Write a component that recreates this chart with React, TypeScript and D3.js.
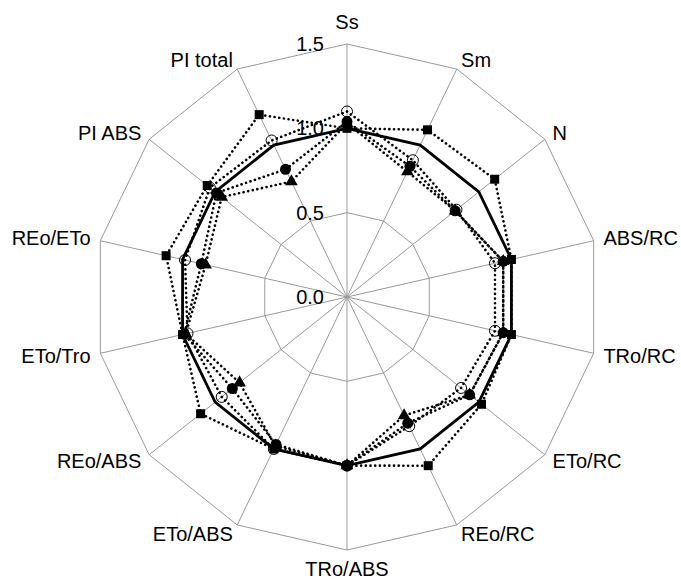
import * as d3 from 'd3'

const categories = [
  'Ss', 'Sm', 'N', 'ABS/RC', 'TRo/RC', 'ETo/RC', 'REo/RC',
  'TRo/ABS', 'ETo/ABS', 'REo/ABS', 'ETo/Tro', 'REo/ETo', 'PI ABS', 'PI total',
]
const ticks = [0, 0.5, 1.0, 1.5]

const control = [1, 1, 1, 1, 1, 1, 1, 1, 1, 1, 1, 1, 1, 1]
const squares = [1.0, 1.1, 1.12, 1.0, 1.0, 1.02, 1.11, 1.0, 1.0, 1.11, 1.0, 1.1, 1.06, 1.2]
const openCircles = [1.1, 0.9, 0.83, 0.9, 0.9, 0.865, 0.85, 1.0, 1.0, 0.95, 0.97, 0.985, 1.04, 1.03]
const filledCircles = [1.04, 0.86, 0.82, 0.95, 0.95, 0.93, 0.83, 1.0, 0.97, 0.87, 0.99, 0.886, 0.99, 0.84]
const triangles = [1.03, 0.825, 0.82, 0.95, 0.95, 0.93, 0.78, 1.0, 0.98, 0.815, 0.98, 0.86, 0.95, 0.76]

type Marker = 'none' | 'square' | 'open' | 'circle' | 'triangle'
const series: { values: number[]; marker: Marker; dotted: boolean }[] = [
  { values: control, marker: 'none', dotted: false },
  { values: squares, marker: 'square', dotted: true },
  { values: openCircles, marker: 'open', dotted: true },
  { values: filledCircles, marker: 'circle', dotted: true },
  { values: triangles, marker: 'triangle', dotted: true },
]

const W = 681
const H = 579
const cx = 347
const cy = 297
const R = 253
const font = 'Liberation Sans, Arial, sans-serif'

export default function App() {
  const n = categories.length
  const r = d3.scaleLinear().domain([0, 1.5]).range([0, R])
  const angle = (i: number) => (i * 2 * Math.PI) / n
  const pt = (i: number, v: number): [number, number] => [
    cx + r(v) * Math.sin(angle(i)),
    cy - r(v) * Math.cos(angle(i)),
  ]
  const line = d3
    .line<number>()
    .x((v, i) => pt(i, v)[0])
    .y((v, i) => pt(i, v)[1])
    .curve(d3.curveLinearClosed)

  const tri = d3.symbol(d3.symbolTriangle, 70)()

  return (
    <svg
      width={W}
      height={H}
      style={{ position: 'absolute', left: 0, top: 0, background: '#fff' }}
      fontFamily={font}
    >
      {/* grid */}
      {ticks.slice(1).map(t => (
        <path key={t} d={line(categories.map(() => t)) ?? ''} fill="none" stroke="#999" strokeWidth={1} />
      ))}
      {categories.map((c, i) => {
        const [x, y] = pt(i, 1.5)
        return <line key={c} x1={cx} y1={cy} x2={x} y2={y} stroke="#999" strokeWidth={1} />
      })}
      {/* tick labels */}
      {ticks.map(t => (
        <text
          key={t}
          x={cx - 23}
          y={cy - r(t)}
          dy="0.35em"
          textAnchor="end"
          fontSize={20}
          fill="#000"
        >
          {d3.format('.1f')(t)}
        </text>
      ))}
      {/* category labels */}
      {categories.map((c, i) => {
        const [x, y] = pt(i, 1.5)
        const s = Math.sin(angle(i))
        const co = Math.cos(angle(i))
        const anchor = Math.abs(s) < 0.1 ? 'middle' : s > 0 ? 'start' : 'end'
        const extra = anchor === 'middle' ? (co > 0 ? 12 : -9) : 0
        return (
          <text
            key={c}
            x={x + 10 * s}
            y={y - 10 * co - extra}
            dy="0.35em"
            textAnchor={anchor}
            fontSize={20}
            fill="#000"
          >
            {c}
          </text>
        )
      })}
      {/* series */}
      {series.map((s, k) => (
        <g key={k}>
          <path
            d={line(s.values) ?? ''}
            fill="none"
            stroke="#000"
            strokeWidth={s.dotted ? 2.6 : 2.8}
            strokeDasharray={s.dotted ? '0.1 4.6' : undefined}
            strokeLinecap={s.dotted ? 'round' : 'butt'}
          />
          {s.values.map((v, i) => {
            const [x, y] = pt(i, v)
            if (s.marker === 'square')
              return <rect key={i} x={x - 4.5} y={y - 4.5} width={9} height={9} fill="#000" />
            if (s.marker === 'open')
              return <circle key={i} cx={x} cy={y} r={5.5} fill="none" stroke="#000" strokeWidth={1} />
            if (s.marker === 'circle')
              return <circle key={i} cx={x} cy={y} r={5.5} fill="#000" />
            if (s.marker === 'triangle')
              return <path key={i} d={tri ?? ''} transform={`translate(${x},${y})`} fill="#000" />
            return null
          })}
        </g>
      ))}
    </svg>
  )
}
